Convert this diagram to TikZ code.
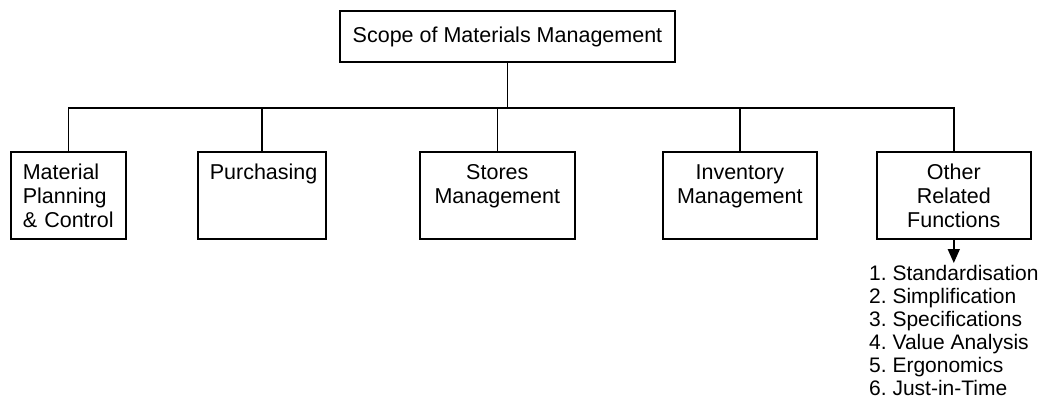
\documentclass[tikz,border=0pt]{standalone}
\usepackage{fontspec}
\setmainfont{Liberation Sans}
\usepackage{xcolor}
\usetikzlibrary{arrows.meta}
\frenchspacing

\tikzset{
  link/.style={line width=1.6pt},
  box/.style={draw, line width=1.6pt, anchor=north west, inner xsep=12pt, inner ysep=0pt,
    text height=28pt, text depth=59pt, font=\fontsize{21.5}{24}\selectfont},
}

\begin{document}
\begin{tikzpicture}[x=1pt,y=-1pt]
\useasboundingbox (0,0) rectangle (1042,412);

\node[draw, line width=1.6pt, minimum width=335pt, minimum height=51pt, inner sep=0pt,
  font=\fontsize{21.5}{24}\selectfont] (scope) at (507.5,36.5) {Scope of Materials Management};

\node[box, text width=91pt, align=left] (plan) at (10,151) {Material\\Planning\\\& Control};
\node[box, text width=104pt, align=left] (purch) at (197,151) {Purchasing};
\node[box, text width=131pt, align=center] (stores) at (419,151) {Stores\\Management};
\node[box, text width=130pt, align=center] (inv) at (662,151) {Inventory\\Management};
\node[box, text width=130pt, align=center] (other) at (876,151) {Other\\Related\\Functions};

\node[anchor=north west, align=left, inner sep=0pt, font=\fontsize{21}{23}\selectfont]
  (list) at (869,265) {1. Standardisation\\2. Simplification\\3. Specifications\\4. Value Analysis\\5. Ergonomics\\6. Just-in-Time};

\coordinate (bar) at (0,108);
\draw[link] (scope.south) -- (scope.south |- bar);
\draw[link] (plan.north) -- (plan.north |- bar) -- (other.north |- bar) -- (other.north);
\foreach \n in {purch,stores,inv}
  \draw[link] (\n.north) -- (\n.north |- bar);

\draw[link, -{Triangle[width=12pt,length=14pt]}, shorten >=2pt] (other.south) -- (other.south |- list.north);
\end{tikzpicture}
\end{document}
